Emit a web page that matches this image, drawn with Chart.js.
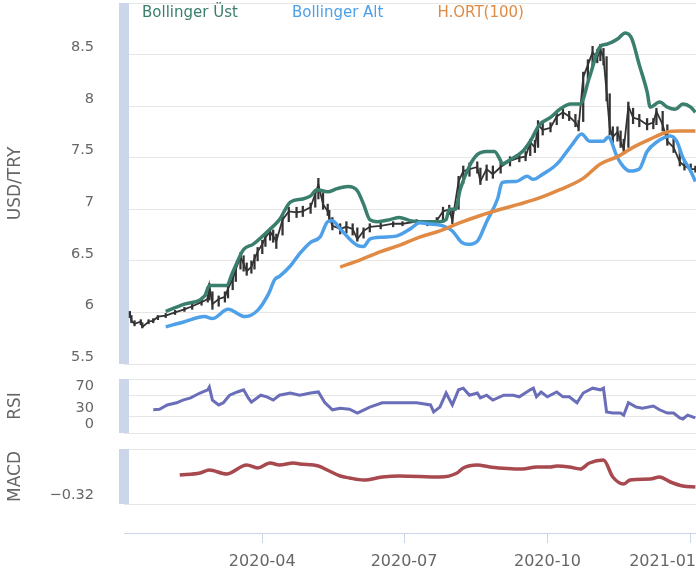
<!DOCTYPE html>
<html><head><meta charset="utf-8">
<script src="https://cdn.jsdelivr.net/npm/chart.js@4.4.0/dist/chart.umd.min.js"></script>
<style>
html,body{margin:0;padding:0;background:#fff;}
#wrap{position:relative;width:696px;height:574px;overflow:hidden;}
#wrap canvas{position:absolute;left:0;top:0;}
</style></head><body>
<div id="wrap">
<canvas id="cPrice" width="696" height="574"></canvas>
<canvas id="cRsi" width="696" height="574"></canvas>
<canvas id="cMacd" width="696" height="574"></canvas>
<canvas id="cAxis" width="696" height="574"></canvas>
</div>
<script>
// x values: days since 2020-01-01
const priceDays = [6,7,9,13,14,18,21,24,29,35,41,46,52,56,57,59,63,67,69,72,74,77,79,81,84,86,88,91,93,96,98,100,104,108,113,117,122,125,127,130,133,134,136,141,145,149,152,156,160,167,175,181,190,197,203,207,211,213,217,220,224,229,231,235,239,244,250,256,260,263,266,268,271,276,280,284,288,292,294,297,300,303,306,308,310,312,314,316,319,321,323,326,329,333,338,342,344,348,351,355,359,362,366,369];
const priceClose = [5.99,5.92,5.89,5.91,5.86,5.91,5.92,5.96,5.97,6.00,6.03,6.06,6.10,6.13,6.26,6.08,6.13,6.15,6.23,6.32,6.42,6.54,6.47,6.40,6.44,6.52,6.59,6.66,6.73,6.78,6.74,6.69,6.90,6.98,6.97,6.98,7.02,7.15,7.24,7.05,6.98,6.92,6.84,6.81,6.83,6.81,6.71,6.79,6.83,6.84,6.86,6.86,6.88,6.86,6.89,6.98,7.00,6.89,7.27,7.37,7.39,7.41,7.27,7.39,7.34,7.41,7.47,7.50,7.51,7.65,7.60,7.82,7.77,7.79,7.90,7.94,7.90,7.84,7.79,8.28,8.40,8.52,8.47,8.55,8.47,8.14,7.79,7.70,7.75,7.66,7.58,8.00,7.89,7.87,7.82,7.84,7.95,7.82,7.66,7.60,7.46,7.42,7.39,7.39];
const priceLow = [5.95,5.90,5.87,5.88,5.85,5.89,5.90,5.93,5.95,5.98,6.01,6.03,6.07,6.10,6.12,6.03,6.06,6.10,6.14,6.22,6.30,6.42,6.40,6.36,6.38,6.42,6.50,6.57,6.64,6.70,6.68,6.62,6.75,6.88,6.92,6.93,6.96,7.02,7.10,7.00,6.94,6.88,6.80,6.76,6.77,6.75,6.69,6.72,6.78,6.81,6.83,6.84,6.85,6.84,6.85,6.88,6.95,6.86,7.00,7.25,7.32,7.35,7.24,7.28,7.30,7.35,7.42,7.46,7.47,7.52,7.55,7.60,7.72,7.75,7.82,7.88,7.86,7.80,7.76,7.85,8.25,8.38,8.42,8.44,8.40,8.05,7.72,7.64,7.66,7.60,7.55,7.60,7.83,7.80,7.77,7.78,7.82,7.76,7.62,7.55,7.42,7.38,7.36,7.36];
const priceHigh = [6.01,5.97,5.92,5.93,5.90,5.93,5.94,5.97,5.99,6.02,6.05,6.08,6.13,6.17,6.28,6.20,6.16,6.20,6.26,6.36,6.46,6.58,6.55,6.48,6.50,6.56,6.63,6.70,6.77,6.82,6.80,6.76,6.94,7.02,7.02,7.03,7.06,7.19,7.30,7.16,7.05,6.99,6.92,6.86,6.88,6.86,6.82,6.82,6.86,6.87,6.88,6.88,6.90,6.89,6.92,7.02,7.04,7.00,7.32,7.42,7.45,7.46,7.40,7.43,7.42,7.46,7.51,7.54,7.56,7.68,7.67,7.86,7.84,7.84,7.94,7.97,7.95,7.92,7.86,8.33,8.45,8.58,8.55,8.60,8.56,8.48,8.12,7.80,7.80,7.76,7.68,8.04,7.98,7.92,7.88,7.88,7.98,7.95,7.82,7.68,7.58,7.48,7.44,7.42];

const upperDays = [29,41,54,57,59,68,72,79,85,94,102,109,117,122,126,133,139,146,152,156,160,165,173,179,186,192,205,209,211,215,218,224,229,235,240,244,245,250,258,263,269,276,282,289,295,301,308,312,319,324,328,333,338,340,346,351,356,361,366,369];
const upperValues = [6.01,6.08,6.16,6.26,6.26,6.26,6.39,6.61,6.66,6.78,6.90,7.07,7.10,7.13,7.19,7.17,7.20,7.22,7.18,7.05,6.90,6.88,6.90,6.92,6.89,6.88,6.88,6.90,7.00,7.00,7.19,7.42,7.53,7.56,7.56,7.47,7.44,7.48,7.56,7.66,7.82,7.89,7.97,8.02,8.02,8.28,8.58,8.60,8.65,8.71,8.66,8.40,8.14,7.99,8.04,7.99,7.97,8.02,7.99,7.94];

const lowerDays = [29,41,54,59,69,80,88,95,99,102,109,115,122,128,133,136,141,152,156,160,168,177,186,192,197,207,213,219,223,229,235,242,245,254,261,265,271,278,282,290,296,301,310,313,319,323,327,333,338,344,353,357,361,366,369];
const lowerValues = [5.86,5.91,5.96,5.94,6.03,5.96,6.02,6.18,6.32,6.35,6.45,6.57,6.68,6.73,6.88,6.89,6.81,6.65,6.64,6.71,6.73,6.74,6.81,6.87,6.86,6.84,6.79,6.68,6.66,6.69,6.88,7.10,7.26,7.27,7.32,7.29,7.34,7.41,7.47,7.63,7.73,7.66,7.66,7.70,7.50,7.41,7.37,7.39,7.56,7.65,7.71,7.66,7.50,7.37,7.27];

const smaDays = [141,154,167,179,192,205,218,231,244,256,269,282,297,308,319,329,340,351,359,369];
const smaValues = [6.44,6.51,6.59,6.65,6.73,6.79,6.87,6.94,7.00,7.05,7.11,7.19,7.30,7.44,7.51,7.60,7.68,7.75,7.76,7.76];

const rsiDays = [21,25,30,36,40,45,51,56,57,59,63,66,70,75,79,82,84,90,94,98,102,109,115,122,127,131,136,141,147,152,160,168,179,190,199,201,205,209,213,217,220,224,229,231,235,239,246,252,256,263,265,267,270,274,280,284,288,293,297,303,308,310,312,316,321,323,326,331,335,342,346,351,355,359,361,364,369];
const rsiValues = [43,44,52,56,61,65,74,80,85,61,52,56,70,76,80,65,57,70,67,61,70,74,70,74,76,57,43,46,44,37,48,56,56,56,52,39,48,74,52,80,83,70,74,65,70,61,70,70,67,80,83,67,76,67,76,67,67,56,74,83,80,83,39,37,37,33,56,48,46,50,43,37,37,28,26,33,28];

const macdDays = [38,51,57,68,81,88,96,102,111,115,127,134,141,147,156,168,179,205,216,220,229,237,258,267,276,280,288,295,301,310,316,323,327,340,346,353,361,369];
const macdValues = [0.017,0.041,0.076,0.029,0.134,0.099,0.157,0.134,0.157,0.145,0.122,0.064,0.006,-0.017,-0.041,-0.006,0.006,-0.006,0.041,0.099,0.134,0.111,0.087,0.111,0.111,0.122,0.111,0.087,0.157,0.192,-0.006,-0.087,-0.041,-0.029,-0.006,-0.064,-0.111,-0.122];

const priceTicks = [5.5,6,6.5,7,7.5,8,8.5,9];
const priceTickLabels = ['5.5','6','6.5','7','7.5','8','8.5',''];
const rsiTicks = [0,30,70,100];
const rsiTickLabels = ['0','30','70',''];
const macdTicks = [-0.32,0.32];
const macdTickLabels = ['\u22120.32',''];
const dateTicks = [91,182,274,366];
const dateTickLabels = ['2020-04','2020-07','2020-10','2021-01'];

const legendNames = ['Bollinger Üst','Bollinger Alt','H.ORT(100)'];

const C_UP = '#3a7f6d', C_LOW = '#4ea0e8', C_SMA = '#e08a44', C_RSI = '#6a6db8', C_MACD = '#a8484f', C_PRICE = '#333333';
const legendColors = [C_UP, C_LOW, C_SMA];
const FONT = "'DejaVu Sans', sans-serif";
const X_MIN = 2.23, X_MAX = 369.4;

function pts(xs, ys){ return xs.map((x,i)=>({x:x, y:ys[i]})); }

// thick pale axis band at the left edge of each pane (spans exactly the pane height)
const paneBar = {
  id:'paneBar',
  beforeDatasetsDraw(chart){
    const a = chart.chartArea, ctx = chart.ctx;
    ctx.save();
    ctx.fillStyle = '#ccd6eb';
    ctx.fillRect(a.left - 5, a.top, 10, a.bottom - a.top);
    ctx.restore();
  }
};

function paneY(o){
  return {
    position:'left', min:o.min, max:o.max,
    afterBuildTicks: s => { s.ticks = o.ticks.map(v => ({value:v})); },
    afterFit: s => { s.width = 124; s.paddingTop = 0; s.paddingBottom = 0; s.paddingLeft = 0; s.paddingRight = 0; },
    grid: {color:'#e6e6e6', lineWidth:1, drawTicks:false},
    border: {display:false},
    ticks: {autoSkip:false, padding:30, labelOffset:o.offset, color:'#666666', font:{family:FONT, size:14.5},
      callback: (v, i) => o.labels[i]},
    title: {display:true, text:o.title, color:'#666666', font:{family:FONT, size:17}, padding:{top:5, bottom:0}}
  };
}
const xHidden = {type:'linear', min:X_MIN, max:X_MAX, display:false, offset:false};
const common = {responsive:false, animation:false, events:[], devicePixelRatio:1};

new Chart(document.getElementById('cPrice'), {
  type:'line',
  plugins:[paneBar],
  data:{datasets:[
    {type:'bar', label:'USD/TRY', data: priceDays.map((d,i)=>({x:d, y:[priceLow[i], priceHigh[i]]})), backgroundColor:C_PRICE, barThickness:1.6, grouped:false, order:5},
    {label:'USD/TRY close', data: pts(priceDays, priceClose), borderColor:C_PRICE, borderWidth:1.8, pointRadius:0, tension:0, order:4},
    {label:legendNames[0], data: pts(upperDays, upperValues), borderColor:C_UP, borderWidth:3.5, pointRadius:0, cubicInterpolationMode:'monotone', order:3},
    {label:legendNames[1], data: pts(lowerDays, lowerValues), borderColor:C_LOW, borderWidth:3.5, pointRadius:0, cubicInterpolationMode:'monotone', order:2},
    {label:legendNames[2], data: pts(smaDays, smaValues), borderColor:C_SMA, borderWidth:3.5, pointRadius:0, cubicInterpolationMode:'monotone', order:1}
  ]},
  options:Object.assign({}, common, {
    layout:{padding:{left:0, right:0, top:3, bottom:210}},
    plugins:{legend:{display:false}, tooltip:{enabled:false}},
    scales:{x:xHidden, y:paneY({min:5.5, max:9, ticks:priceTicks, labels:priceTickLabels, title:'USD/TRY', offset:-7})}
  })
});

new Chart(document.getElementById('cRsi'), {
  type:'line',
  plugins:[paneBar],
  data:{datasets:[
    {label:'RSI', data: pts(rsiDays, rsiValues), borderColor:C_RSI, borderWidth:3, pointRadius:0, tension:0}
  ]},
  options:Object.assign({}, common, {
    layout:{padding:{left:0, right:0, top:379, bottom:141}},
    plugins:{legend:{display:false}, tooltip:{enabled:false}},
    scales:{x:xHidden, y:paneY({min:0, max:100, ticks:rsiTicks, labels:rsiTickLabels, title:'RSI', offset:-9})}
  })
});

new Chart(document.getElementById('cMacd'), {
  type:'line',
  plugins:[paneBar],
  data:{datasets:[
    {label:'MACD', data: pts(macdDays, macdValues), borderColor:C_MACD, borderWidth:3.5, pointRadius:0, cubicInterpolationMode:'monotone'}
  ]},
  options:Object.assign({}, common, {
    layout:{padding:{left:0, right:0, top:449, bottom:70}},
    plugins:{legend:{display:false}, tooltip:{enabled:false}},
    scales:{x:xHidden, y:paneY({min:-0.32, max:0.32, ticks:macdTicks, labels:macdTickLabels, title:'MACD', offset:-9})}
  })
});

// bottom date axis: the last label is kept inside the plot (right-justified at the edge), like the original
const axisTickValues = [X_MIN].concat(dateTicks, [X_MAX]);
const axisTickLabels = [''].concat(dateTickLabels.slice(0, -1), [''], dateTickLabels.slice(-1));
const axisTickHidden = [true].concat(dateTicks.map(() => false), [true]);

new Chart(document.getElementById('cAxis'), {
  type:'line',
  data:{datasets:[]},
  options:Object.assign({}, common, {
    layout:{padding:{left:87.9, right:0, top:0, bottom:0}},
    plugins:{
      tooltip:{enabled:false},
      legend:{display:true, position:'top', align:'start',
        labels:{boxWidth:40.6, boxHeight:1, padding:6, font:{family:FONT, size:15},
          generateLabels: () => legendNames.map((t,i)=>({text:t, fillStyle:'rgba(0,0,0,0)', strokeStyle:'rgba(0,0,0,0)', lineWidth:0, fontColor:legendColors[i], hidden:false, datasetIndex:i}))}}
    },
    scales:{
      x:{type:'linear', min:X_MIN, max:X_MAX, position:'bottom', offset:false,
        afterBuildTicks: s => { s.ticks = axisTickValues.map(v => ({value:v})); },
        afterFit: s => { s.height = 41; s.paddingLeft = 0; s.paddingRight = 0; s.paddingTop = 0; s.paddingBottom = 0; },
        grid:{drawOnChartArea:false, drawTicks:true, tickLength:10, lineWidth:1,
          color: c => axisTickHidden[c.index] ? 'rgba(0,0,0,0)' : '#ccd6eb'},
        border:{display:true, color:'#ccd6eb', width:1},
        ticks:{autoSkip:false, maxRotation:0, minRotation:0, align:'inner', padding:9, color:'#666666', font:{family:FONT, size:16},
          callback:(v,i) => axisTickLabels[i]}},
      y:{display:true, position:'left', min:0, max:1,
        afterFit: s => { s.width = 36.1; s.paddingTop = 0; s.paddingBottom = 0; },
        grid:{display:false}, border:{display:false}, ticks:{display:false}}
    }
  })
});
</script>
</body></html>
